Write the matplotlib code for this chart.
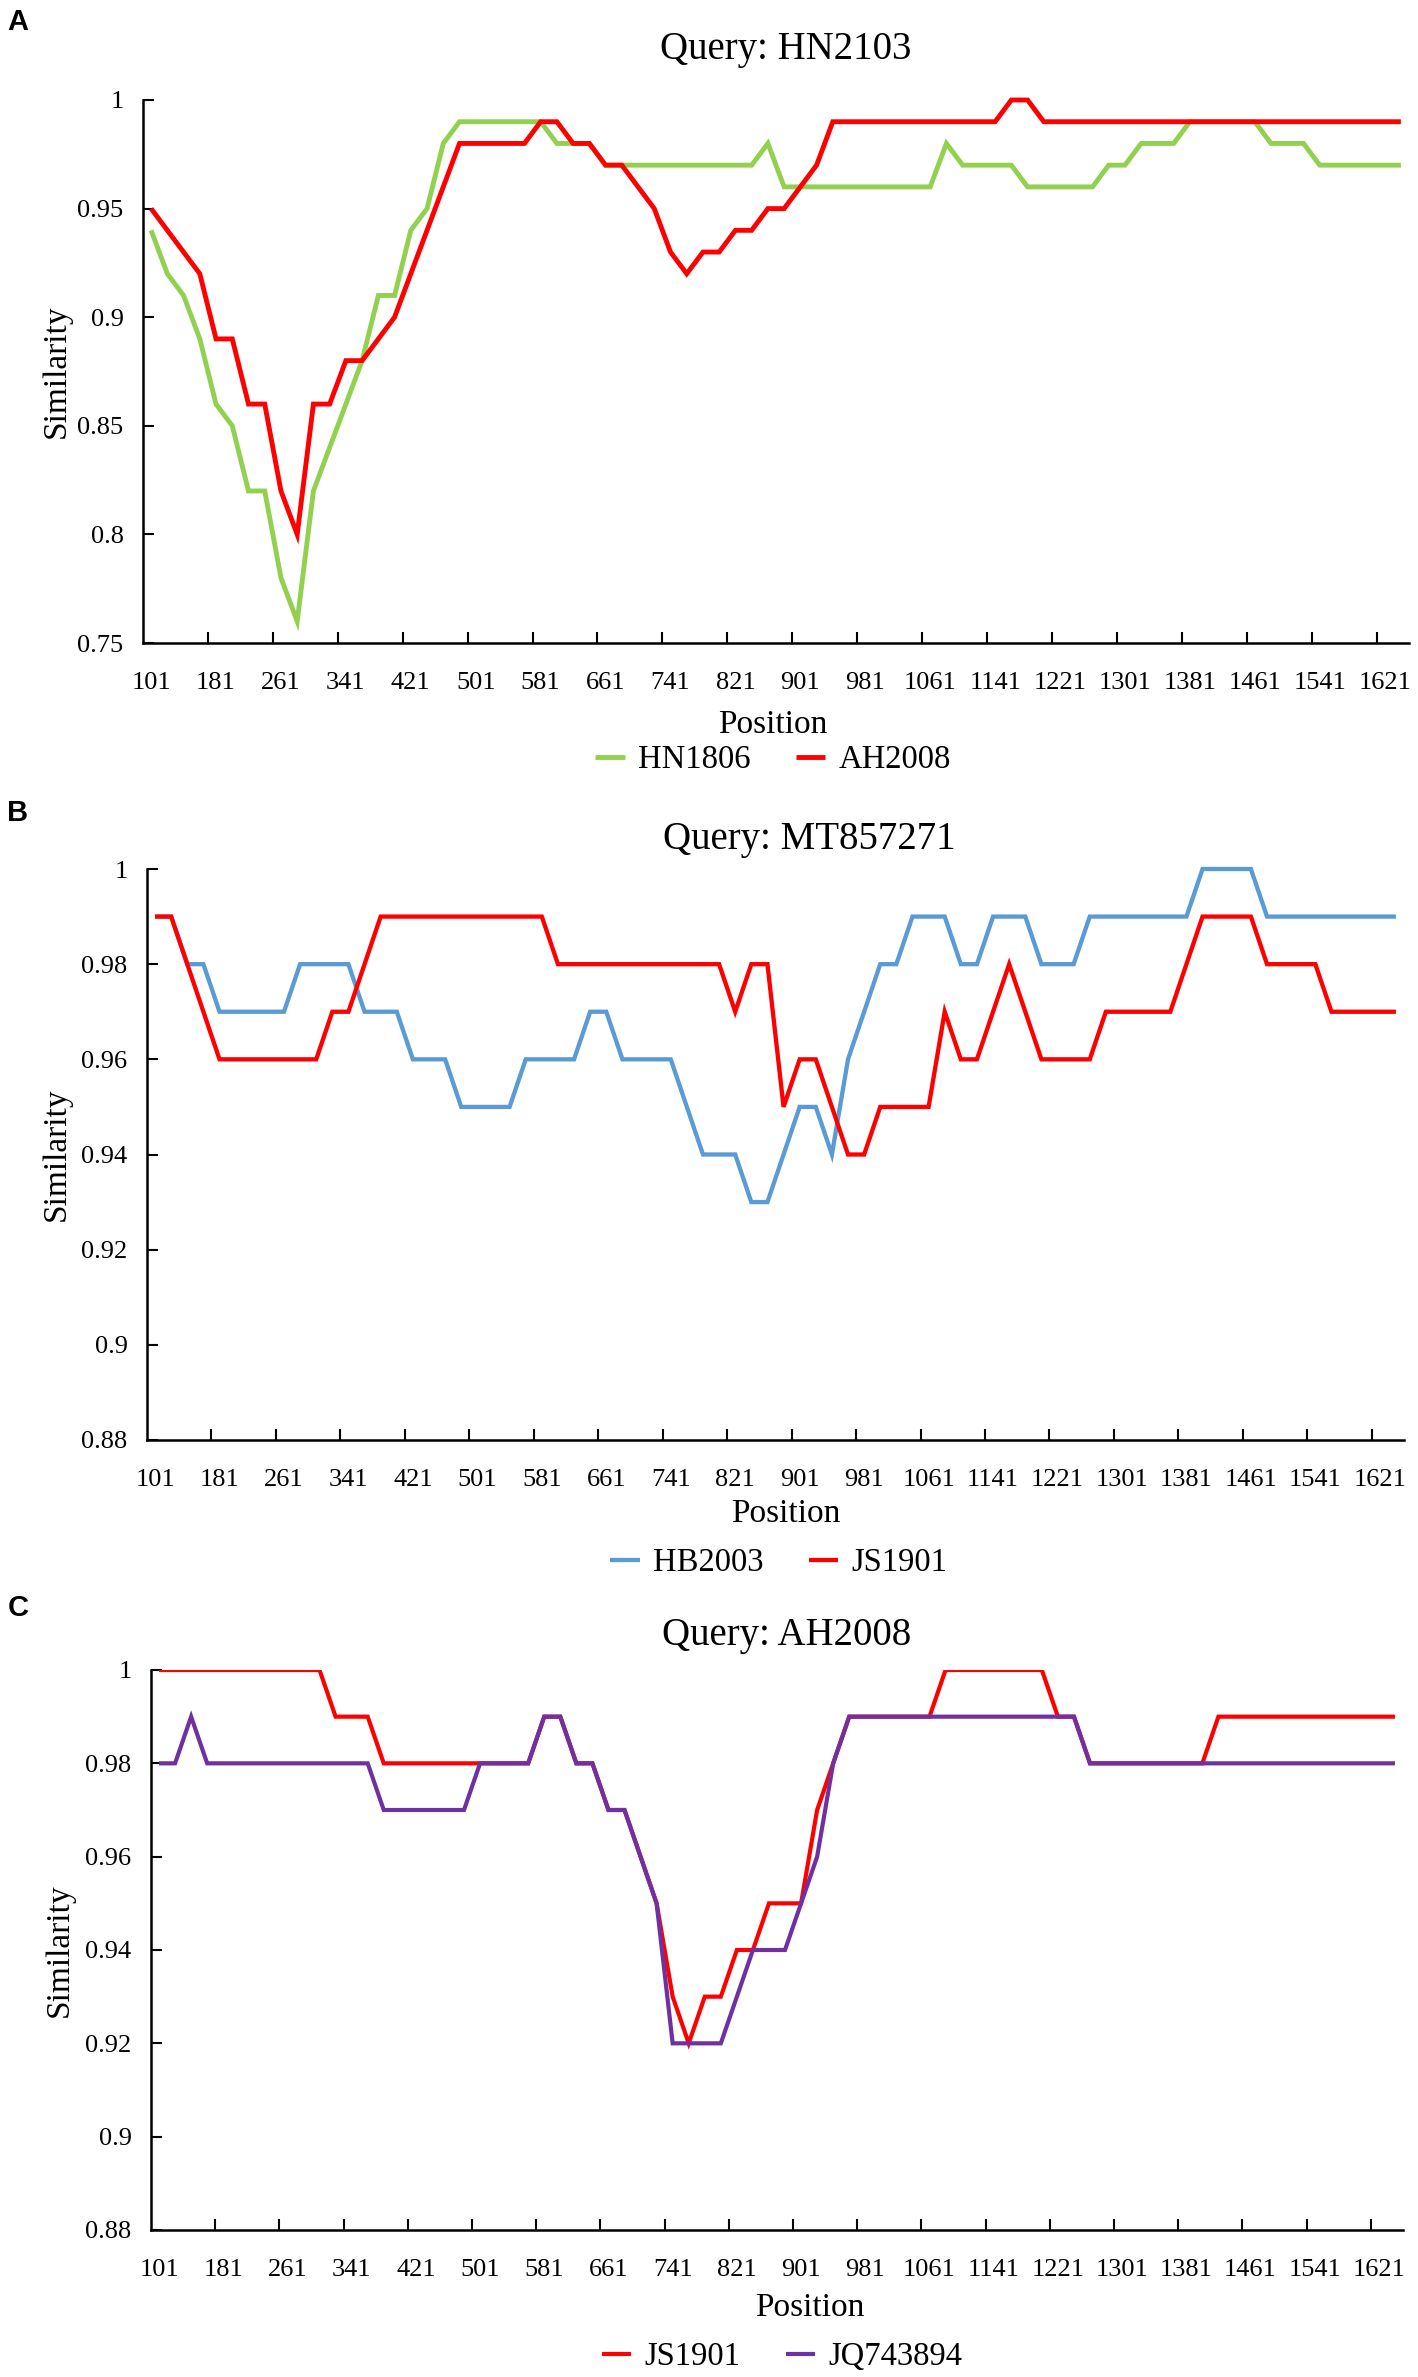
import matplotlib
matplotlib.use("Agg")
import matplotlib.pyplot as plt
import numpy as np
from matplotlib.ticker import FixedLocator

# ---------------- data ----------------
positions = list(range(101, 1642, 20))          # window start positions (categories)
tick_positions = positions[::4]                 # labelled categories 101, 181, ..., 1621

a_labels = ["HN1806", "AH2008"]
a_hn1806 = [0.94, 0.92, 0.91, 0.89, 0.86, 0.85, 0.82, 0.82, 0.78, 0.76,
            0.82, 0.84, 0.86, 0.88, 0.91, 0.91, 0.94, 0.95, 0.98, 0.99,
            0.99, 0.99, 0.99, 0.99, 0.99, 0.98, 0.98, 0.98, 0.97, 0.97,
            0.97, 0.97, 0.97, 0.97, 0.97, 0.97, 0.97, 0.97, 0.98, 0.96,
            0.96, 0.96, 0.96, 0.96, 0.96, 0.96, 0.96, 0.96, 0.96, 0.98,
            0.97, 0.97, 0.97, 0.97, 0.96, 0.96, 0.96, 0.96, 0.96, 0.97,
            0.97, 0.98, 0.98, 0.98, 0.99, 0.99, 0.99, 0.99, 0.99, 0.98,
            0.98, 0.98, 0.97, 0.97, 0.97, 0.97, 0.97, 0.97]
a_ah2008 = [0.95, 0.94, 0.93, 0.92, 0.89, 0.89, 0.86, 0.86, 0.82, 0.80,
            0.86, 0.86, 0.88, 0.88, 0.89, 0.90, 0.92, 0.94, 0.96, 0.98,
            0.98, 0.98, 0.98, 0.98, 0.99, 0.99, 0.98, 0.98, 0.97, 0.97,
            0.96, 0.95, 0.93, 0.92, 0.93, 0.93, 0.94, 0.94, 0.95, 0.95,
            0.96, 0.97, 0.99, 0.99, 0.99, 0.99, 0.99, 0.99, 0.99, 0.99,
            0.99, 0.99, 0.99, 1.00, 1.00, 0.99, 0.99, 0.99, 0.99, 0.99,
            0.99, 0.99, 0.99, 0.99, 0.99, 0.99, 0.99, 0.99, 0.99, 0.99,
            0.99, 0.99, 0.99, 0.99, 0.99, 0.99, 0.99, 0.99]

b_labels = ["HB2003", "JS1901"]
b_hb2003 = [0.99, 0.99, 0.98, 0.98, 0.97, 0.97, 0.97, 0.97, 0.97, 0.98,
            0.98, 0.98, 0.98, 0.97, 0.97, 0.97, 0.96, 0.96, 0.96, 0.95,
            0.95, 0.95, 0.95, 0.96, 0.96, 0.96, 0.96, 0.97, 0.97, 0.96,
            0.96, 0.96, 0.96, 0.95, 0.94, 0.94, 0.94, 0.93, 0.93, 0.94,
            0.95, 0.95, 0.94, 0.96, 0.97, 0.98, 0.98, 0.99, 0.99, 0.99,
            0.98, 0.98, 0.99, 0.99, 0.99, 0.98, 0.98, 0.98, 0.99, 0.99,
            0.99, 0.99, 0.99, 0.99, 0.99, 1.00, 1.00, 1.00, 1.00, 0.99,
            0.99, 0.99, 0.99, 0.99, 0.99, 0.99, 0.99, 0.99]
b_js1901 = [0.99, 0.99, 0.98, 0.97, 0.96, 0.96, 0.96, 0.96, 0.96, 0.96,
            0.96, 0.97, 0.97, 0.98, 0.99, 0.99, 0.99, 0.99, 0.99, 0.99,
            0.99, 0.99, 0.99, 0.99, 0.99, 0.98, 0.98, 0.98, 0.98, 0.98,
            0.98, 0.98, 0.98, 0.98, 0.98, 0.98, 0.97, 0.98, 0.98, 0.95,
            0.96, 0.96, 0.95, 0.94, 0.94, 0.95, 0.95, 0.95, 0.95, 0.97,
            0.96, 0.96, 0.97, 0.98, 0.97, 0.96, 0.96, 0.96, 0.96, 0.97,
            0.97, 0.97, 0.97, 0.97, 0.98, 0.99, 0.99, 0.99, 0.99, 0.98,
            0.98, 0.98, 0.98, 0.97, 0.97, 0.97, 0.97, 0.97]

c_labels = ["JS1901", "JQ743894"]
c_js1901 = [1.00, 1.00, 1.00, 1.00, 1.00, 1.00, 1.00, 1.00, 1.00, 1.00,
            1.00, 0.99, 0.99, 0.99, 0.98, 0.98, 0.98, 0.98, 0.98, 0.98,
            0.98, 0.98, 0.98, 0.98, 0.99, 0.99, 0.98, 0.98, 0.97, 0.97,
            0.96, 0.95, 0.93, 0.92, 0.93, 0.93, 0.94, 0.94, 0.95, 0.95,
            0.95, 0.97, 0.98, 0.99, 0.99, 0.99, 0.99, 0.99, 0.99, 1.00,
            1.00, 1.00, 1.00, 1.00, 1.00, 1.00, 0.99, 0.99, 0.98, 0.98,
            0.98, 0.98, 0.98, 0.98, 0.98, 0.98, 0.99, 0.99, 0.99, 0.99,
            0.99, 0.99, 0.99, 0.99, 0.99, 0.99, 0.99, 0.99]
c_jq743894 = [0.98, 0.98, 0.99, 0.98, 0.98, 0.98, 0.98, 0.98, 0.98, 0.98,
              0.98, 0.98, 0.98, 0.98, 0.97, 0.97, 0.97, 0.97, 0.97, 0.97,
              0.98, 0.98, 0.98, 0.98, 0.99, 0.99, 0.98, 0.98, 0.97, 0.97,
              0.96, 0.95, 0.92, 0.92, 0.92, 0.92, 0.93, 0.94, 0.94, 0.94,
              0.95, 0.96, 0.98, 0.99, 0.99, 0.99, 0.99, 0.99, 0.99, 0.99,
              0.99, 0.99, 0.99, 0.99, 0.99, 0.99, 0.99, 0.99, 0.98, 0.98,
              0.98, 0.98, 0.98, 0.98, 0.98, 0.98, 0.98, 0.98, 0.98, 0.98,
              0.98, 0.98, 0.98, 0.98, 0.98, 0.98, 0.98, 0.98]

a_yticks = [0.75, 0.8, 0.85, 0.9, 0.95, 1.0]
a_yticklabels = ["0.75", "0.8", "0.85", "0.9", "0.95", "1"]
bc_yticks = [0.88, 0.9, 0.92, 0.94, 0.96, 0.98, 1.0]
bc_yticklabels = ["0.88", "0.9", "0.92", "0.94", "0.96", "0.98", "1"]

titles = ["Query: HN2103", "Query: MT857271", "Query: AH2008"]
panel_letters = ["A", "B", "C"]

# ---------------- style ----------------
W, H = 1418, 2377
SERIF = ["Liberation Serif", "DejaVu Serif"]
SANS = ["Liberation Sans", "DejaVu Sans"]
plt.rcParams["font.family"] = SERIF

GREEN = "#92D050"
RED = "#FF0000"
BLUE = "#5B9BD5"
PURPLE = "#7030A0"

fig = plt.figure(figsize=(W / 100, H / 100), dpi=100)


def fx(px):
    return px / W


def fy(py):
    return 1 - py / H


def make_panel(box, series, colors, names, ylim, yticks, yticklabels, lw, letter,
               letter_xy, title_xy, title, xlabel_xy, legend_xy, ylabel_x, clip):
    left, top, right, bottom = box
    ax = fig.add_axes([fx(left), fy(bottom), fx(right) - fx(left), fy(top) - fy(bottom)])
    idx = np.arange(len(positions))
    handles = []
    for vals, col, name in zip(series, colors, names):
        ln, = ax.plot(idx, vals, color=col, lw=lw, label=name, clip_on=clip,
                      solid_joinstyle="miter", solid_capstyle="butt", zorder=3)
        handles.append(ln)
    ax.set_xlim(-0.5, len(positions) - 0.5)
    ax.set_ylim(*ylim)
    for s in ["top", "right"]:
        ax.spines[s].set_visible(False)
    for s in ["left", "bottom"]:
        ax.spines[s].set_linewidth(1.8)
        ax.spines[s].set_zorder(4)
    # categories: labels every 4th, tick marks between category groups
    ax.xaxis.set_major_locator(FixedLocator([positions.index(p) for p in tick_positions]))
    ax.set_xticklabels([str(p) for p in tick_positions])
    ax.xaxis.set_minor_locator(FixedLocator(np.arange(3.5, len(positions) - 1, 4)))
    ax.tick_params(axis="x", which="major", length=0, pad=21, labelsize=19)
    ax.tick_params(axis="x", which="minor", direction="in", length=8, width=1.5)
    ax.set_yticks(yticks)
    ax.set_yticklabels(yticklabels)
    ax.tick_params(axis="y", direction="in", length=8, width=1.5, pad=14, labelsize=19)

    fig.text(fx(letter_xy[0]), fy(letter_xy[1]), letter, family=SANS, weight="bold",
             fontsize=21, ha="center", va="center")
    fig.text(fx(title_xy[0]), fy(title_xy[1]), title, fontsize=28, ha="center", va="center")
    fig.text(fx(xlabel_xy[0]), fy(xlabel_xy[1]), "Position", fontsize=24,
             ha="center", va="center")
    fig.text(fx(ylabel_x), fy((top + bottom) / 2), "Similarity", fontsize=24,
             rotation=90, ha="center", va="center")
    fig.legend(handles=handles, labels=names, loc="center",
               bbox_to_anchor=(fx(legend_xy[0]), fy(legend_xy[1])),
               ncol=2, frameon=False, fontsize=23.5, handlelength=0.9,
               handletextpad=0.4, columnspacing=1.4, borderpad=0.0)
    return ax


make_panel((143, 100, 1409, 643), [a_hn1806, a_ah2008], [GREEN, RED], a_labels,
           (0.75, 1.0), a_yticks, a_yticklabels, 3.5, panel_letters[0],
           (18, 22), (786, 50), titles[0], (773, 725), (773, 760), 57, False)

make_panel((147, 869, 1404, 1440), [b_hb2003, b_js1901], [BLUE, RED], b_labels,
           (0.88, 1.0), bc_yticks, bc_yticklabels, 3.1, panel_letters[1],
           (18, 813), (809, 839), titles[1], (786, 1514), (779, 1563), 57, False)

make_panel((151, 1670, 1403, 2230), [c_js1901, c_jq743894], [RED, PURPLE], c_labels,
           (0.88, 1.0), bc_yticks, bc_yticklabels, 3.0, panel_letters[2],
           (18, 1608), (787, 1635), titles[2], (810, 2308), (782, 2357), 60, True)

fig.savefig("out.png", dpi=100, facecolor="white")
